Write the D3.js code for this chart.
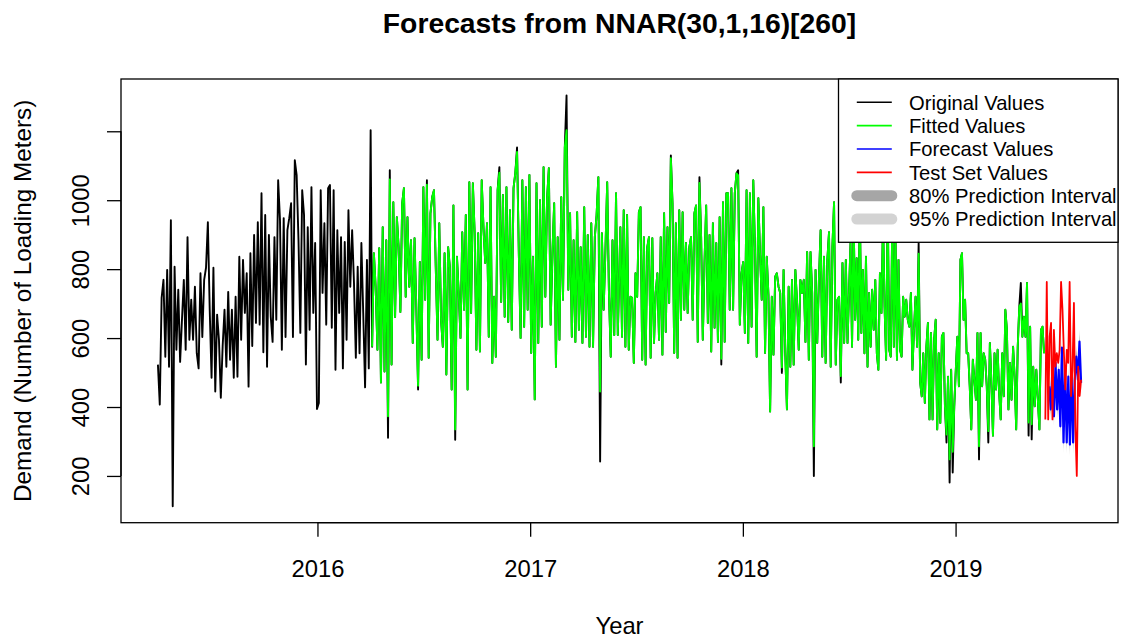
<!DOCTYPE html>
<html>
<head>
<meta charset="utf-8">
<title>Forecasts from NNAR(30,1,16)[260]</title>
<script src="https://cdn.jsdelivr.net/npm/d3@7"></script>
<style>
  body { margin: 0; background: #fff; }
  svg { display: block; font-family: "Liberation Sans", Arial, Helvetica, sans-serif; }
</style>
</head>
<body>
<div id="chart"></div>
<script>
// ---- Data ----
const yearTicks = [2016, 2017, 2018, 2019];
const demandTicks = [200, 400, 600, 800, 1000, 1200];
const demandTickLabels = ['200', '400', '600', '800', '1000', ''];

// time span (in years) covered by each block of observed values
const blockStart = [2015.25, 2016.257, 2017.424, 2018.506];
const blockEnd = [2016.250, 2017.412, 2018.492, 2019.416];

// observed series, first year (no fitted values there)
const originalA = [523, 407, 717, 769, 546, 798, 517, 942, 112, 807, 566, 740, 531, 653, 769, 566,
  893, 595, 711, 595, 749, 556, 512, 788, 603, 769, 804, 936, 682, 485, 804, 445, 668, 595, 427,
  577, 682, 517, 734, 537, 682, 485, 720, 488, 836, 595, 827, 673, 788, 459, 846, 577, 899, 644,
  936, 639, 1020, 559, 957, 517, 899, 662, 589, 893, 653, 1058, 942, 566, 948, 603, 913, 948, 991,
  603, 1116, 1073, 884, 615, 1029, 957, 523, 922, 624, 1038, 673, 876, 394, 412, 1029, 731, 933,
  639, 1035, 1044, 630, 1029, 508, 913, 673, 893, 512, 879, 595, 971, 749, 913, 760, 543, 807, 556,
  876, 673, 457, 827, 512, 1203];

// observed series, 2016.25 - 2017.41
const originalB = [575, 846, 749, 566, 861, 471, 922, 503, 884, 311, 1087, 523, 994, 661, 951, 864,
  676, 991, 1035, 720, 951, 749, 884, 586, 890, 691, 451, 821, 537, 1038, 711, 1058, 543, 962, 1009,
  1029, 807, 595, 933, 653, 575, 846, 494, 864, 804, 451, 985, 305, 836, 731, 600, 907, 682, 957,
  451, 1052, 673, 1049, 907, 566, 904, 561, 1058, 922, 818, 933, 604, 1038, 528, 720, 546, 1029,
  1096, 705, 1015, 662, 1038, 647, 971, 624, 1035, 1078, 1153, 846, 600, 1058, 633, 1038, 682, 1073,
  557, 836, 422, 1049, 586, 1000, 633, 1096, 720, 1006, 1093, 639, 846, 991, 517, 893, 595, 1009,
  711, 1153, 1304, 740, 962, 604, 884, 589, 965, 624, 864, 586, 980, 604, 899, 575, 933, 575, 893,
  957, 1067, 242, 904, 682, 855, 1052, 731, 546, 884, 609, 1020, 609];

// observed series, 2017.42 - 2018.49
const originalC = [922, 604, 971, 575, 957, 566, 720, 717, 528, 788, 720, 965, 980, 537, 893, 523,
  864, 893, 543, 890, 586, 731, 788, 595, 893, 552, 962, 618, 922, 702, 1130, 991, 557, 933, 543,
  971, 653, 965, 682, 876, 673, 864, 893, 653, 962, 985, 589, 1067, 893, 595, 818, 985, 644, 899,
  561, 933, 630, 876, 589, 951, 523, 994, 589, 1020, 1020, 682, 1035, 682, 1020, 1078, 1087, 639,
  788, 821, 615, 1029, 586, 1020, 633, 1058, 861, 546, 1006, 846, 711, 980, 557, 836, 726, 387, 720,
  552, 778, 788, 749, 731, 499, 798, 557, 393, 749, 517, 769, 523, 798, 705, 566, 769, 731, 769, 589,
  850, 537, 850, 731, 200, 798, 586, 769, 913, 546, 836, 528, 827, 907, 517, 864, 994, 523, 711, 720,
  471, 818, 586, 827, 586];

// observed series, 2018.51 - 2019.42
const originalD = [875, 575, 960, 653, 832, 595, 1000, 615, 798, 556, 836, 517, 731, 575, 740, 624,
  769, 556, 508, 788, 673, 950, 691, 537, 1010, 566, 546, 960, 575, 925, 537, 827, 566, 546, 720, 662,
  711, 653, 633, 731, 508, 624, 720, 575, 875, 471, 431, 556, 412, 575, 644, 364, 615, 364, 595, 653,
  335, 556, 354, 604, 615, 402, 297, 488, 181, 508, 210, 402, 508, 604, 460, 827, 846, 653, 711, 556,
  556, 460, 335, 537, 479, 421, 615, 248, 615, 460, 556, 537, 460, 297, 586, 471, 317, 556, 451, 566,
  441, 364, 556, 431, 682, 624, 393, 528, 421, 575, 488, 335, 575, 691, 760, 604, 662, 604, 760, 317,
  633, 306, 517, 402, 508, 421, 335, 624, 633, 556];

// fitted values follow the observed ones except at these [index, value] points
const fittedDiffB = [[9, 373], [10, 1060], [26, 462], [31, 1045], [47, 335], [72, 1080], [82, 1140],
  [110, 1203], [129, 445]];
const fittedDiffC = [[30, 1122], [47, 1050], [60, 540], [70, 1072], [96, 515], [115, 286], [131, 490]];
const fittedDiffD = [[44, 845], [62, 320], [64, 248], [66, 270], [83, 286], [89, 330], [110, 700],
  [115, 355], [117, 350]];

// test set
const testStart = 2019.422;
const testEnd = 2019.59;
const testValues = [364, 763, 364, 604, 644, 364, 624, 517, 556, 528, 566, 763, 682, 556, 451, 566,
  528, 763, 432, 508, 702, 344, 200, 517, 432, 479];

// forecasts and prediction interval half widths
const forecastStart = 2019.44;
const forecastEnd = 2019.59;
const forecastValues = [460, 393, 508, 373, 528, 393, 508, 344, 572, 297, 508, 297, 488, 291, 508,
  297, 479, 546, 479, 590, 470];
const pi80Half = [12, 14, 12, 15, 13, 16, 14, 17, 15, 18, 16, 18, 17, 19, 17, 20, 18, 19, 18, 20, 19];
const pi95Half = [22, 25, 23, 27, 24, 28, 26, 30, 27, 31, 28, 32, 30, 33, 31, 34, 32, 33, 31, 35, 33];

const legendLabels = ['Original Values', 'Fitted Values', 'Forecast Values', 'Test Set Values',
  '80% Prediction Interval', '95% Prediction Interval'];

// ---- Layout ----
const width = 1121;
const height = 640;
const plot = { left: 121, right: 1118, top: 79, bottom: 522.7 };

let svg;
let xScale;
let yScale;

/**
 * Spread a block of values evenly over its time span
 */
function toPoints(values, start, end) {
  const step = (end - start) / (values.length - 1);
  return values.map((v, i) => ({ t: start + i * step, v: v }));
}

/**
 * Fitted series = observed series with the listed differences
 */
function withDiffs(values, diffs) {
  const out = values.slice();
  diffs.forEach(([i, v]) => { out[i] = v; });
  return out;
}

function drawChart() {
  const origBlocks = [originalA, originalB, originalC, originalD];
  const original = [];
  origBlocks.forEach((vals, b) => {
    toPoints(vals, blockStart[b], blockEnd[b]).forEach(p => original.push(p));
  });

  const fitted = []
    .concat(toPoints(withDiffs(originalB, fittedDiffB), blockStart[1], blockEnd[1]))
    .concat(toPoints(withDiffs(originalC, fittedDiffC), blockStart[2], blockEnd[2]))
    .concat(toPoints(withDiffs(originalD, fittedDiffD), blockStart[3], blockEnd[3]));

  const test = toPoints(testValues, testStart, testEnd);
  const forecast = toPoints(forecastValues, forecastStart, forecastEnd).map((p, i) => ({
    t: p.t, v: p.v,
    lo80: p.v - pi80Half[i], hi80: p.v + pi80Half[i],
    lo95: p.v - pi95Half[i], hi95: p.v + pi95Half[i]
  }));

  // R style limits: data range padded by 4% on each side
  const tMin = d3.min(original, d => d.t);
  const tMax = d3.max(test.concat(forecast), d => d.t);
  const vMin = d3.min([d3.min(original, d => d.v), d3.min(test, d => d.v), d3.min(forecast, d => d.lo95)]);
  const vMax = d3.max([d3.max(original, d => d.v), d3.max(test, d => d.v), d3.max(forecast, d => d.hi95)]);
  const tPad = (tMax - tMin) * 0.04;
  const vPad = (vMax - vMin) * 0.04;

  xScale = d3.scaleLinear().domain([tMin - tPad, tMax + tPad]).range([plot.left, plot.right]);
  yScale = d3.scaleLinear().domain([vMin - vPad, vMax + vPad]).range([plot.bottom, plot.top]);

  svg = d3.select('#chart')
    .append('svg')
    .attr('width', width)
    .attr('height', height);

  svg.append('rect').attr('width', width).attr('height', height).attr('fill', '#fff');

  svg.append('clipPath').attr('id', 'plot-clip')
    .append('rect')
    .attr('x', plot.left).attr('y', plot.top)
    .attr('width', plot.right - plot.left).attr('height', plot.bottom - plot.top);

  const g = svg.append('g').attr('clip-path', 'url(#plot-clip)');

  const line = d3.line().x(d => xScale(d.t)).y(d => yScale(d.v));

  // observed
  g.append('path').datum(original)
    .attr('d', line).attr('fill', 'none')
    .attr('stroke', '#000').attr('stroke-width', 1.9).attr('stroke-linejoin', 'round');

  // prediction intervals
  g.append('path').datum(forecast)
    .attr('d', d3.area().x(d => xScale(d.t)).y0(d => yScale(d.lo95)).y1(d => yScale(d.hi95)))
    .attr('fill', '#d3d3d3');
  g.append('path').datum(forecast)
    .attr('d', d3.area().x(d => xScale(d.t)).y0(d => yScale(d.lo80)).y1(d => yScale(d.hi80)))
    .attr('fill', '#a6a6a6');

  // forecast
  g.append('path').datum(forecast)
    .attr('d', line).attr('fill', 'none')
    .attr('stroke', '#0000ff').attr('stroke-width', 2.2).attr('stroke-linejoin', 'round');

  // fitted
  g.append('path').datum(fitted)
    .attr('d', line).attr('fill', 'none')
    .attr('stroke', '#00ff00').attr('stroke-width', 1.9).attr('stroke-linejoin', 'round');

  // test set
  g.append('path').datum(test)
    .attr('d', line).attr('fill', 'none')
    .attr('stroke', '#ff0000').attr('stroke-width', 1.8).attr('stroke-linejoin', 'round');

  drawAxes();
  drawLegend();
}

function drawAxes() {
  const fontSize = 23.8;

  // plot box
  svg.append('rect')
    .attr('x', plot.left).attr('y', plot.top)
    .attr('width', plot.right - plot.left).attr('height', plot.bottom - plot.top)
    .attr('fill', 'none').attr('stroke', '#000').attr('stroke-width', 1.3);

  // x axis
  const xAxis = svg.append('g').attr('transform', `translate(0,${plot.bottom})`)
    .call(d3.axisBottom(xScale).tickValues(yearTicks).tickFormat(d3.format('d'))
      .tickSize(14).tickPadding(23));
  xAxis.select('.domain')
    .attr('d', `M${xScale(yearTicks[0])},0H${xScale(yearTicks[yearTicks.length - 1])}`)
    .attr('stroke-width', 1.3);
  xAxis.selectAll('.tick line').attr('stroke-width', 1.3);
  xAxis.selectAll('.tick text')
    .attr('font-family', null).attr('font-size', fontSize).attr('fill', '#000');

  // y axis
  const yAxis = svg.append('g').attr('transform', `translate(${plot.left},0)`)
    .call(d3.axisLeft(yScale).tickValues(demandTicks)
      .tickFormat((d, i) => demandTickLabels[i]).tickSize(14));
  yAxis.select('.domain')
    .attr('d', `M0,${yScale(demandTicks[0])}V${yScale(demandTicks[demandTicks.length - 1])}`)
    .attr('stroke-width', 1.3);
  yAxis.selectAll('.tick line').attr('stroke-width', 1.3);
  yAxis.selectAll('.tick text')
    .attr('font-family', null).attr('font-size', fontSize).attr('fill', '#000')
    .attr('x', null).attr('dy', null)
    .attr('text-anchor', 'middle')
    .attr('transform', 'translate(-32.5,0) rotate(-90)');

  // title and axis titles
  svg.append('text')
    .attr('x', (plot.left + plot.right) / 2).attr('y', 33)
    .attr('text-anchor', 'middle')
    .attr('font-size', 28.3).attr('font-weight', 'bold')
    .text('Forecasts from NNAR(30,1,16)[260]');

  svg.append('text')
    .attr('x', (plot.left + plot.right) / 2).attr('y', 634)
    .attr('text-anchor', 'middle')
    .attr('font-size', fontSize)
    .text('Year');

  svg.append('text')
    .attr('transform', `translate(30.5,${(plot.top + plot.bottom) / 2}) rotate(-90)`)
    .attr('text-anchor', 'middle')
    .attr('font-size', 24.3)
    .text('Demand (Number of Loading Meters)');
}

function drawLegend() {
  const box = { x: 838.5, y: plot.top, w: plot.right - 838.5, h: 242.3 - plot.top };
  const rowY = i => 102.3 + i * 23.35;
  const styles = [
    { color: '#000', width: 1.6 },
    { color: '#00ff00', width: 1.6 },
    { color: '#0000ff', width: 1.6 },
    { color: '#ff0000', width: 1.6 },
    { color: '#a6a6a6', width: 11 },
    { color: '#d3d3d3', width: 11 }
  ];

  const lg = svg.append('g').attr('class', 'legend');
  lg.append('rect')
    .attr('x', box.x).attr('y', box.y).attr('width', box.w).attr('height', box.h)
    .attr('fill', '#fff').attr('stroke', '#000').attr('stroke-width', 1.3);

  const rows = lg.selectAll('.row')
    .data(legendLabels)
    .enter()
    .append('g')
    .attr('class', 'row')
    .attr('transform', (d, i) => `translate(0,${rowY(i)})`);

  rows.append('line')
    .attr('x1', 856.8).attr('x2', 891.8)
    .attr('stroke', (d, i) => styles[i].color)
    .attr('stroke-width', (d, i) => styles[i].width)
    .attr('stroke-linecap', (d, i) => i >= 4 ? 'round' : 'butt');

  rows.append('text')
    .attr('x', 909).attr('y', 7.2)
    .attr('font-size', 20.2)
    .text(d => d);
}

document.addEventListener('DOMContentLoaded', drawChart);
</script>
</body>
</html>
